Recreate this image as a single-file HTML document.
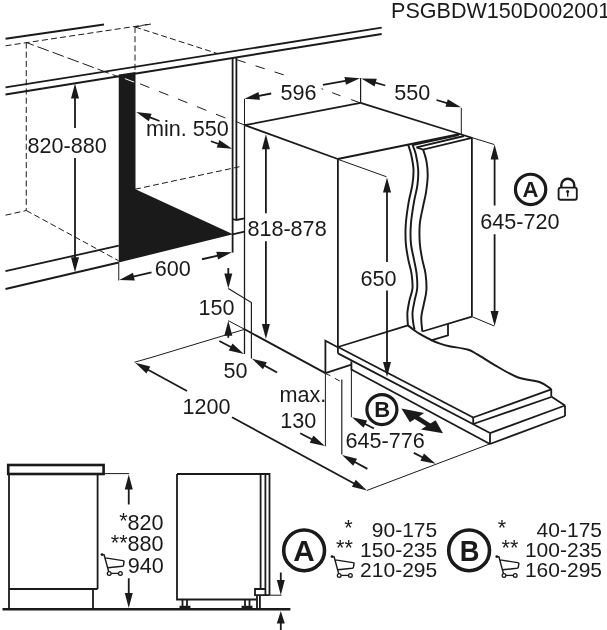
<!DOCTYPE html>
<html><head><meta charset="utf-8"><title>PSGBDW150D002001</title>
<style>
html,body{margin:0;padding:0;background:#fff;}
body{width:607px;height:630px;overflow:hidden;font-family:"Liberation Sans",sans-serif;}
svg{display:block;}
svg text{font-family:"Liberation Sans",sans-serif;}
svg{opacity:0.999;will-change:transform;}
</style></head><body>
<svg width="607" height="630" viewBox="0 0 607 630" font-family="Liberation Sans, sans-serif" fill="#1a1a1a">
<text x="391.1" y="18.3" font-size="21.55" text-anchor="start" font-weight="normal">PSGBDW150D002001</text>
<line x1="5.5" y1="38.8" x2="104" y2="24.5" stroke="#1a1a1a" stroke-width="2.0" stroke-linecap="butt"/>
<line x1="5.5" y1="87.4" x2="381.7" y2="27.7" stroke="#1a1a1a" stroke-width="1.8" stroke-linecap="butt"/>
<line x1="5.5" y1="94.5" x2="381.7" y2="34" stroke="#1a1a1a" stroke-width="1.8" stroke-linecap="butt"/>
<line x1="5.5" y1="45.8" x2="151" y2="24" stroke="#1a1a1a" stroke-width="1.0" stroke-linecap="butt" stroke-dasharray="6 3.2"/>
<line x1="151" y1="24" x2="135" y2="27" stroke="#1a1a1a" stroke-width="1.0" stroke-linecap="butt" stroke-dasharray="6 3.2"/>
<line x1="26.25" y1="42.5" x2="26.25" y2="210.5" stroke="#1a1a1a" stroke-width="1.0" stroke-linecap="butt" stroke-dasharray="6 3.2"/>
<line x1="135" y1="27" x2="135" y2="74" stroke="#1a1a1a" stroke-width="1.0" stroke-linecap="butt" stroke-dasharray="6 3.2"/>
<line x1="5.5" y1="215.2" x2="26.25" y2="210.5" stroke="#1a1a1a" stroke-width="1.0" stroke-linecap="butt" stroke-dasharray="6 3.2"/>
<line x1="26.25" y1="210.5" x2="118.75" y2="260.8" stroke="#1a1a1a" stroke-width="1.0" stroke-linecap="butt" stroke-dasharray="6 3.2"/>
<line x1="26.25" y1="42.5" x2="118.75" y2="76.9" stroke="#1a1a1a" stroke-width="1.0" stroke-linecap="butt" stroke-dasharray="8 4 12 4 12 4 12 4 12 4 12 4"/>
<line x1="135" y1="27" x2="217" y2="53.4" stroke="#1a1a1a" stroke-width="1.0" stroke-linecap="butt" stroke-dasharray="6 3.2"/>
<line x1="236.5" y1="59.7" x2="284.8" y2="75.2" stroke="#1a1a1a" stroke-width="1.0" stroke-linecap="butt" stroke-dasharray="9.6 10.4"/>
<line x1="140" y1="83.8" x2="226.2" y2="118.3" stroke="#1a1a1a" stroke-width="1.0" stroke-linecap="butt" stroke-dasharray="10.1 10.36"/>
<line x1="135" y1="189.25" x2="239.5" y2="166.75" stroke="#1a1a1a" stroke-width="1.0" stroke-linecap="butt" stroke-dasharray="6 3.2"/>
<line x1="5.5" y1="271.2" x2="118.75" y2="245.6" stroke="#1a1a1a" stroke-width="1.8" stroke-linecap="butt"/>
<line x1="5.5" y1="289" x2="118.75" y2="262.5" stroke="#1a1a1a" stroke-width="1.8" stroke-linecap="butt"/>
<polygon points="118.75,74.50 135.50,72.00 135.50,189.25 233.00,234.30 118.75,262.50" fill="#1a1a1a" stroke="none" stroke-width="0"/>
<line x1="124.8" y1="78.6" x2="134.2" y2="82.1" stroke="#fff" stroke-width="1.0" stroke-linecap="butt"/>
<line x1="232.6" y1="57.5" x2="232.6" y2="252.6" stroke="#1a1a1a" stroke-width="1.8" stroke-linecap="butt"/>
<line x1="236.4" y1="57" x2="236.4" y2="220" stroke="#1a1a1a" stroke-width="1.8" stroke-linecap="butt"/>
<path d="M232.6,219 L236.4,220 L244.5,218.3" stroke="#1a1a1a" stroke-width="1.8" fill="none" stroke-linejoin="miter" stroke-linecap="butt"/>
<line x1="232.6" y1="234.4" x2="244.5" y2="231.6" stroke="#1a1a1a" stroke-width="1.8" stroke-linecap="butt"/>
<line x1="244.5" y1="98.8" x2="244.5" y2="125.2" stroke="#1a1a1a" stroke-width="1.0" stroke-linecap="butt"/>
<line x1="244.5" y1="125.2" x2="244.5" y2="354" stroke="#1a1a1a" stroke-width="1.3" stroke-linecap="butt"/>
<line x1="235.7" y1="121.4" x2="244.8" y2="125.2" stroke="#1a1a1a" stroke-width="1.0" stroke-linecap="butt"/>
<line x1="75" y1="128" x2="75.0" y2="95.6" stroke="#1a1a1a" stroke-width="1.8" stroke-linecap="butt"/>
<polygon points="75.00,83.60 79.00,98.60 71.00,98.60" fill="#1a1a1a" stroke="none" stroke-width="0"/>
<line x1="75" y1="158" x2="75.0" y2="260.2" stroke="#1a1a1a" stroke-width="1.8" stroke-linecap="butt"/>
<polygon points="75.00,272.20 71.00,257.20 79.00,257.20" fill="#1a1a1a" stroke="none" stroke-width="0"/>
<text x="27.5" y="153.1" font-size="21.6" text-anchor="start" font-weight="normal">820-880</text>
<text x="146.0" y="136.2" font-size="21.6" text-anchor="start" font-weight="normal">min. 550</text>
<line x1="159.5" y1="121" x2="147.39394464022297" y2="116.32384127733934" stroke="#1a1a1a" stroke-width="1.8" stroke-linecap="butt"/>
<polygon points="136.20,112.00 151.63,113.67 148.75,121.14" fill="#1a1a1a" stroke="none" stroke-width="0"/>
<line x1="210.9" y1="141.25" x2="220.8811759300331" y2="144.76449856691306" stroke="#1a1a1a" stroke-width="1.8" stroke-linecap="butt"/>
<polygon points="232.20,148.75 216.72,147.54 219.38,140.00" fill="#1a1a1a" stroke="none" stroke-width="0"/>
<text x="154.75" y="276.3" font-size="21.6" text-anchor="start" font-weight="normal">600</text>
<line x1="118.75" y1="262.5" x2="118.75" y2="280.5" stroke="#1a1a1a" stroke-width="1.0" stroke-linecap="butt"/>
<line x1="151.5" y1="272.4" x2="130.97910050625123" y2="277.243442116537" stroke="#1a1a1a" stroke-width="1.8" stroke-linecap="butt"/>
<polygon points="119.30,280.00 132.98,272.66 134.82,280.45" fill="#1a1a1a" stroke="none" stroke-width="0"/>
<line x1="202" y1="259.25" x2="220.11361628397702" y2="255.0255156653141" stroke="#1a1a1a" stroke-width="1.8" stroke-linecap="butt"/>
<polygon points="231.80,252.30 218.10,259.60 216.28,251.81" fill="#1a1a1a" stroke="none" stroke-width="0"/>
<line x1="244.8" y1="125.2" x2="360.6" y2="102.9" stroke="#1a1a1a" stroke-width="1.8" stroke-linecap="butt"/>
<line x1="360.6" y1="102.9" x2="460" y2="134" stroke="#1a1a1a" stroke-width="1.8" stroke-linecap="butt"/>
<line x1="244.8" y1="125.2" x2="337.75" y2="159" stroke="#1a1a1a" stroke-width="1.8" stroke-linecap="butt"/>
<line x1="337.75" y1="159" x2="460" y2="134" stroke="#1a1a1a" stroke-width="1.8" stroke-linecap="butt"/>
<line x1="337.9" y1="159" x2="337.9" y2="353.4" stroke="#1a1a1a" stroke-width="1.8" stroke-linecap="butt"/>
<line x1="471.9" y1="137.5" x2="471.9" y2="316.6" stroke="#1a1a1a" stroke-width="1.8" stroke-linecap="butt"/>
<text x="280.4" y="100.3" font-size="21.6" text-anchor="start" font-weight="normal">596</text>
<line x1="271.2" y1="93.5" x2="256.2703469462579" y2="96.46356408931959" stroke="#1a1a1a" stroke-width="1.8" stroke-linecap="butt"/>
<polygon points="244.50,98.80 258.43,91.96 259.99,99.80" fill="#1a1a1a" stroke="none" stroke-width="0"/>
<line x1="322.9" y1="84.8" x2="348.185493892633" y2="80.30177197597364" stroke="#1a1a1a" stroke-width="1.8" stroke-linecap="butt"/>
<polygon points="360.00,78.20 345.93,84.77 344.53,76.89" fill="#1a1a1a" stroke="none" stroke-width="0"/>
<line x1="360.6" y1="78" x2="360.6" y2="102.9" stroke="#1a1a1a" stroke-width="1.2" stroke-linecap="butt"/>
<line x1="332.2" y1="92.7" x2="340.5" y2="95.8" stroke="#1a1a1a" stroke-width="1.0" stroke-linecap="butt"/>
<line x1="351.2" y1="99.6" x2="360.2" y2="102.9" stroke="#1a1a1a" stroke-width="1.0" stroke-linecap="butt"/>
<line x1="321.5" y1="88.7" x2="323.2" y2="89.3" stroke="#1a1a1a" stroke-width="1.0" stroke-linecap="butt"/>
<text x="394.3" y="100.3" font-size="21.6" text-anchor="start" font-weight="normal">550</text>
<line x1="385.25" y1="85.5" x2="372.80509261617" y2="81.81069551460571" stroke="#1a1a1a" stroke-width="1.8" stroke-linecap="butt"/>
<polygon points="361.30,78.40 376.82,78.83 374.54,86.50" fill="#1a1a1a" stroke="none" stroke-width="0"/>
<line x1="436.5" y1="100" x2="449.499645082256" y2="103.87336363675382" stroke="#1a1a1a" stroke-width="1.8" stroke-linecap="butt"/>
<polygon points="461.00,107.30 445.48,106.85 447.77,99.18" fill="#1a1a1a" stroke="none" stroke-width="0"/>
<line x1="461.3" y1="107.8" x2="461.3" y2="134.4" stroke="#1a1a1a" stroke-width="1.0" stroke-linecap="butt"/>
<text x="247.4" y="236.3" font-size="21.6" text-anchor="start" font-weight="normal">818-878</text>
<line x1="265.9" y1="213.2" x2="265.9" y2="146.3" stroke="#1a1a1a" stroke-width="1.8" stroke-linecap="butt"/>
<polygon points="265.90,134.30 269.90,149.30 261.90,149.30" fill="#1a1a1a" stroke="none" stroke-width="0"/>
<line x1="265.9" y1="241.2" x2="265.9" y2="327.0" stroke="#1a1a1a" stroke-width="1.8" stroke-linecap="butt"/>
<polygon points="265.90,339.00 261.90,324.00 269.90,324.00" fill="#1a1a1a" stroke="none" stroke-width="0"/>
<text x="360.5" y="286.3" font-size="21.6" text-anchor="start" font-weight="normal">650</text>
<line x1="337.75" y1="159.25" x2="386.5" y2="176.75" stroke="#1a1a1a" stroke-width="1.0" stroke-linecap="butt"/>
<line x1="387" y1="262" x2="387.0" y2="189.4" stroke="#1a1a1a" stroke-width="1.8" stroke-linecap="butt"/>
<polygon points="387.00,177.40 391.00,192.40 383.00,192.40" fill="#1a1a1a" stroke="none" stroke-width="0"/>
<line x1="387" y1="290.5" x2="387.0" y2="365.0" stroke="#1a1a1a" stroke-width="1.8" stroke-linecap="butt"/>
<polygon points="387.00,377.00 383.00,362.00 391.00,362.00" fill="#1a1a1a" stroke="none" stroke-width="0"/>
<text x="480.25" y="228.6" font-size="21.6" text-anchor="start" font-weight="normal">645-720</text>
<line x1="471.9" y1="137.6" x2="494.2" y2="144.5" stroke="#1a1a1a" stroke-width="1.0" stroke-linecap="butt"/>
<line x1="494.6" y1="205.5" x2="494.6" y2="156.5" stroke="#1a1a1a" stroke-width="1.8" stroke-linecap="butt"/>
<polygon points="494.60,144.50 498.60,159.50 490.60,159.50" fill="#1a1a1a" stroke="none" stroke-width="0"/>
<line x1="494.6" y1="234.25" x2="494.6" y2="314.0" stroke="#1a1a1a" stroke-width="1.8" stroke-linecap="butt"/>
<polygon points="494.60,326.00 490.60,311.00 498.60,311.00" fill="#1a1a1a" stroke="none" stroke-width="0"/>
<line x1="471.9" y1="316.6" x2="494.2" y2="326" stroke="#1a1a1a" stroke-width="1.0" stroke-linecap="butt"/>
<line x1="412.5" y1="145.1" x2="458.6" y2="135.2" stroke="#1a1a1a" stroke-width="1.8" stroke-linecap="butt"/>
<line x1="416.5" y1="147.4" x2="464" y2="136" stroke="#1a1a1a" stroke-width="1.8" stroke-linecap="butt"/>
<path d="M416.5,147.4 L423.1,149.6 L471.9,137.8" stroke="#1a1a1a" stroke-width="1.8" fill="none" stroke-linejoin="miter" stroke-linecap="butt"/>
<line x1="460" y1="134" x2="471.9" y2="137.8" stroke="#1a1a1a" stroke-width="1.8" stroke-linecap="butt"/>
<path d="M408.1,144.8 C408.60,146.38 410.20,150.13 411.1,154.3 C412.00,158.47 413.30,164.65 413.5,169.8 C413.70,174.95 413.10,179.85 412.3,185.2 C411.50,190.55 409.78,195.43 408.7,201.9 C407.62,208.37 406.28,217.13 405.8,224 C405.32,230.87 405.38,237.17 405.8,243.1 C406.22,249.03 407.35,254.52 408.3,259.6 C409.25,264.68 410.80,268.83 411.5,273.6 C412.20,278.37 412.85,283.70 412.5,288.2 C412.15,292.70 410.25,296.47 409.4,300.6 C408.55,304.73 407.65,308.87 407.4,313 C407.15,317.13 407.82,323.33 407.9,325.4" stroke="#1a1a1a" stroke-width="1.95" fill="none" stroke-linejoin="miter" stroke-linecap="butt"/>
<path d="M412.5,144.8 C413.05,146.38 414.85,150.13 415.8,154.3 C416.75,158.47 417.93,164.65 418.2,169.8 C418.47,174.95 418.10,179.85 417.4,185.2 C416.70,190.55 415.08,195.43 414,201.9 C412.92,208.37 411.42,217.13 410.9,224 C410.38,230.87 410.38,237.17 410.9,243.1 C411.42,249.03 413.05,254.52 414,259.6 C414.95,264.68 416.07,268.83 416.6,273.6 C417.13,278.37 417.53,283.70 417.2,288.2 C416.87,292.70 415.38,296.47 414.6,300.6 C413.82,304.73 412.70,309.10 412.5,313 C412.30,316.90 413.05,321.27 413.4,324 C413.75,326.73 414.40,328.50 414.6,329.4" stroke="#1a1a1a" stroke-width="1.95" fill="none" stroke-linejoin="miter" stroke-linecap="butt"/>
<path d="M423.1,149.4 C423.67,151.40 425.73,157.02 426.5,161.4 C427.27,165.78 427.78,170.53 427.7,175.7 C427.62,180.87 426.78,187.23 426,192.4 C425.22,197.57 424.03,201.43 423,206.7 C421.97,211.97 420.33,217.93 419.8,224 C419.27,230.07 419.38,237.17 419.8,243.1 C420.22,249.03 421.35,254.52 422.3,259.6 C423.25,264.68 424.82,268.48 425.5,273.6 C426.18,278.72 426.67,285.28 426.4,290.3 C426.13,295.32 424.75,299.23 423.9,303.7 C423.05,308.17 421.57,312.47 421.3,317.1 C421.03,321.73 422.13,329.10 422.3,331.5" stroke="#1a1a1a" stroke-width="1.95" fill="none" stroke-linejoin="miter" stroke-linecap="butt"/>
<line x1="471.9" y1="316.6" x2="422.3" y2="331.5" stroke="#1a1a1a" stroke-width="1.8" stroke-linecap="butt"/>
<path d="M448,324 L448,335.3 L431.2,340.4" stroke="#1a1a1a" stroke-width="1.8" fill="none" stroke-linejoin="miter" stroke-linecap="butt"/>
<circle cx="530.6" cy="189.4" r="15.15" fill="none" stroke="#1a1a1a" stroke-width="3.2"/>
<text x="530.6" y="196.8" font-size="22.1" text-anchor="middle" font-weight="bold">A</text>
<rect x="558.6" y="187.6" width="18.2" height="12.1" rx="2" fill="none" stroke="#1a1a1a" stroke-width="1.85"/>
<path d="M561.3,187 V185.2 A6.5,6.5 0 0 1 574.3,185.2 V187" stroke="#1a1a1a" stroke-width="2.4" fill="none" stroke-linejoin="miter" stroke-linecap="butt"/>
<circle cx="567.7" cy="191.5" r="1.55"/>
<line x1="567.7" y1="191.5" x2="567.7" y2="196.7" stroke="#1a1a1a" stroke-width="1.4" stroke-linecap="butt"/>
<line x1="338" y1="347" x2="407.9" y2="325.4" stroke="#1a1a1a" stroke-width="1.8" stroke-linecap="butt"/>
<line x1="338" y1="347" x2="473.2" y2="417.5" stroke="#1a1a1a" stroke-width="1.8" stroke-linecap="butt"/>
<line x1="338" y1="353.4" x2="490" y2="433" stroke="#1a1a1a" stroke-width="1.8" stroke-linecap="butt"/>
<line x1="351.4" y1="369.5" x2="490" y2="444" stroke="#1a1a1a" stroke-width="1.8" stroke-linecap="butt"/>
<line x1="473.2" y1="417.5" x2="473.2" y2="424" stroke="#1a1a1a" stroke-width="1.8" stroke-linecap="butt"/>
<line x1="490" y1="433.2" x2="490" y2="444" stroke="#1a1a1a" stroke-width="1.8" stroke-linecap="butt"/>
<line x1="473.2" y1="417.5" x2="551.25" y2="389.4" stroke="#1a1a1a" stroke-width="1.8" stroke-linecap="butt"/>
<line x1="473.2" y1="424" x2="551.25" y2="397" stroke="#1a1a1a" stroke-width="1.8" stroke-linecap="butt"/>
<line x1="551.25" y1="389" x2="551.25" y2="396.5" stroke="#1a1a1a" stroke-width="1.8" stroke-linecap="butt"/>
<line x1="551.25" y1="396.5" x2="565" y2="405.5" stroke="#1a1a1a" stroke-width="1.8" stroke-linecap="butt"/>
<line x1="565" y1="405.5" x2="565" y2="416" stroke="#1a1a1a" stroke-width="1.8" stroke-linecap="butt"/>
<line x1="490" y1="433.2" x2="565" y2="405.5" stroke="#1a1a1a" stroke-width="1.8" stroke-linecap="butt"/>
<line x1="490" y1="444" x2="565" y2="416" stroke="#1a1a1a" stroke-width="1.8" stroke-linecap="butt"/>
<path d="M407.9,325.4 C408.83,326.10 411.53,328.18 413.5,329.6 C415.47,331.02 416.75,332.17 419.7,333.9 C422.65,335.63 427.82,338.38 431.2,340 C434.58,341.62 436.97,342.57 440,343.6 C443.03,344.63 444.82,345.22 449.4,346.2 C453.98,347.18 462.83,348.13 467.5,349.5 C472.17,350.87 472.87,351.80 477.4,354.4 C481.93,357.00 488.02,361.29 494.7,365.1 C501.38,368.91 509.95,374.39 517.5,377.25 C525.05,380.11 534.38,380.29 540,382.25 C545.62,384.21 549.38,387.88 551.25,389" stroke="#1a1a1a" stroke-width="1.95" fill="none" stroke-linejoin="miter" stroke-linecap="butt"/>
<line x1="490" y1="443.8" x2="367" y2="490.4" stroke="#1a1a1a" stroke-width="1.0" stroke-linecap="butt"/>
<line x1="244.6" y1="329.3" x2="152" y2="357.25" stroke="#1a1a1a" stroke-width="1.0" stroke-linecap="butt"/>
<line x1="152" y1="357.25" x2="134.5" y2="362.25" stroke="#1a1a1a" stroke-width="1.0" stroke-linecap="butt"/>
<line x1="228.3" y1="320.7" x2="244.6" y2="329.3" stroke="#1a1a1a" stroke-width="1.0" stroke-linecap="butt"/>
<line x1="244.6" y1="329.3" x2="325.4" y2="373.1" stroke="#1a1a1a" stroke-width="1.8" stroke-linecap="butt"/>
<text x="182.4" y="414.3" font-size="21.6" text-anchor="start" font-weight="normal">1200</text>
<line x1="187" y1="391" x2="145.7394088076279" y2="368.5376704319519" stroke="#1a1a1a" stroke-width="1.8" stroke-linecap="butt"/>
<polygon points="135.20,362.80 150.29,366.46 146.46,373.49" fill="#1a1a1a" stroke="none" stroke-width="0"/>
<line x1="232" y1="417.25" x2="356.4493147582125" y2="484.6830916634314" stroke="#1a1a1a" stroke-width="1.8" stroke-linecap="butt"/>
<polygon points="367.00,490.40 351.91,486.77 355.72,479.74" fill="#1a1a1a" stroke="none" stroke-width="0"/>
<text x="198.5" y="314.55" font-size="21.6" text-anchor="start" font-weight="normal">150</text>
<line x1="228.3" y1="268" x2="228.3" y2="276.6" stroke="#1a1a1a" stroke-width="1.8" stroke-linecap="butt"/>
<polygon points="228.30,288.60 224.30,273.60 232.30,273.60" fill="#1a1a1a" stroke="none" stroke-width="0"/>
<line x1="228.3" y1="337.8" x2="228.3" y2="332.7" stroke="#1a1a1a" stroke-width="1.8" stroke-linecap="butt"/>
<polygon points="228.30,320.70 232.30,335.70 224.30,335.70" fill="#1a1a1a" stroke="none" stroke-width="0"/>
<path d="M228.3,288.6 L251.4,302.5 L251.4,358.4" stroke="#1a1a1a" stroke-width="1.15" fill="none" stroke-linejoin="miter" stroke-linecap="butt"/>
<text x="223.6" y="378.4" font-size="21.6" text-anchor="start" font-weight="normal">50</text>
<line x1="219.3" y1="341" x2="233.27255939202092" y2="348.3270738275231" stroke="#1a1a1a" stroke-width="1.8" stroke-linecap="butt"/>
<polygon points="243.90,353.90 228.76,350.48 232.47,343.39" fill="#1a1a1a" stroke="none" stroke-width="0"/>
<line x1="277.1" y1="372.5" x2="262.31722285011875" y2="364.3782370599467" stroke="#1a1a1a" stroke-width="1.8" stroke-linecap="butt"/>
<polygon points="251.80,358.60 266.87,362.32 263.02,369.33" fill="#1a1a1a" stroke="none" stroke-width="0"/>
<path d="M325.4,373.1 L325.4,340.8 L337.75,347.2" stroke="#1a1a1a" stroke-width="1.8" fill="none" stroke-linejoin="miter" stroke-linecap="butt"/>
<line x1="325.4" y1="373.1" x2="351.4" y2="364.7" stroke="#1a1a1a" stroke-width="1.8" stroke-linecap="butt"/>
<line x1="351.4" y1="361.3" x2="351.4" y2="370.3" stroke="#1a1a1a" stroke-width="1.8" stroke-linecap="butt"/>
<line x1="351.4" y1="370" x2="351.4" y2="417.25" stroke="#1a1a1a" stroke-width="1.0" stroke-linecap="butt"/>
<line x1="325.4" y1="373.1" x2="325.4" y2="446.3" stroke="#1a1a1a" stroke-width="1.0" stroke-linecap="butt"/>
<line x1="325.8" y1="373.6" x2="330.3" y2="375.7" stroke="#1a1a1a" stroke-width="1.0" stroke-linecap="butt"/>
<line x1="334.8" y1="378.3" x2="339.7" y2="381" stroke="#1a1a1a" stroke-width="1.0" stroke-linecap="butt"/>
<line x1="341.8" y1="379.5" x2="341.8" y2="454.5" stroke="#1a1a1a" stroke-width="1.15" stroke-linecap="butt"/>
<text x="279.5" y="402.3" font-size="21.6" text-anchor="start" font-weight="normal">max.</text>
<text x="280.2" y="428.05" font-size="21.6" text-anchor="start" font-weight="normal">130</text>
<line x1="300.2" y1="433.2" x2="314.24564021031125" y2="440.4787123357079" stroke="#1a1a1a" stroke-width="1.8" stroke-linecap="butt"/>
<polygon points="324.90,446.00 309.74,442.65 313.42,435.55" fill="#1a1a1a" stroke="none" stroke-width="0"/>
<line x1="367.4" y1="468.9" x2="352.5268176034239" y2="460.7607387672281" stroke="#1a1a1a" stroke-width="1.8" stroke-linecap="butt"/>
<polygon points="342.00,455.00 357.08,458.69 353.24,465.71" fill="#1a1a1a" stroke="none" stroke-width="0"/>
<circle cx="381.9" cy="409.6" r="15.0" fill="none" stroke="#1a1a1a" stroke-width="3.2"/>
<text x="382.2" y="417.2" font-size="22.0" text-anchor="middle" font-weight="bold">B</text>
<polygon points="401.40,408.40 424.20,412.90 409.90,422.30" fill="#1a1a1a" stroke="none" stroke-width="0"/>
<polygon points="443.00,433.20 435.60,420.30 420.90,429.40" fill="#1a1a1a" stroke="none" stroke-width="0"/>
<line x1="415.5" y1="416.8" x2="429.5" y2="425.6" stroke="#1a1a1a" stroke-width="4.6" stroke-linecap="butt"/>
<text x="345.5" y="448.05" font-size="21.6" text-anchor="start" font-weight="normal">645-776</text>
<line x1="374" y1="428.5" x2="362.6939573872179" y2="422.7441964880382" stroke="#1a1a1a" stroke-width="1.8" stroke-linecap="butt"/>
<polygon points="352.00,417.30 367.18,420.54 363.55,427.67" fill="#1a1a1a" stroke="none" stroke-width="0"/>
<line x1="413.8" y1="452.9" x2="424.86687370800104" y2="458.4334368540005" stroke="#1a1a1a" stroke-width="1.8" stroke-linecap="butt"/>
<polygon points="435.60,463.80 420.39,460.67 423.97,453.51" fill="#1a1a1a" stroke="none" stroke-width="0"/>
<rect x="8.2" y="465.0" width="95.4" height="9.0" fill="none" stroke="#1a1a1a" stroke-width="2.6"/>
<line x1="104.5" y1="473.6" x2="129.2" y2="473.6" stroke="#1a1a1a" stroke-width="1.0" stroke-linecap="butt"/>
<path d="M9,475 V608 M97.6,475 V589 M9,589 H97.6 M93,589 V608" stroke="#1a1a1a" stroke-width="1.8" fill="none" stroke-linejoin="miter" stroke-linecap="butt"/>
<line x1="2.5" y1="609.3" x2="290.4" y2="609.3" stroke="#1a1a1a" stroke-width="2.6" stroke-linecap="butt"/>
<line x1="128.75" y1="504.5" x2="128.75" y2="486.5" stroke="#1a1a1a" stroke-width="1.8" stroke-linecap="butt"/>
<polygon points="128.75,474.50 132.75,489.50 124.75,489.50" fill="#1a1a1a" stroke="none" stroke-width="0"/>
<line x1="128.75" y1="578.25" x2="128.75" y2="596.0" stroke="#1a1a1a" stroke-width="1.8" stroke-linecap="butt"/>
<polygon points="128.75,608.00 124.75,593.00 132.75,593.00" fill="#1a1a1a" stroke="none" stroke-width="0"/>
<text x="119.2" y="528.3" font-size="21.6" text-anchor="start" font-weight="normal">*</text>
<text x="127.6" y="529.8" font-size="21.6" text-anchor="start" font-weight="normal">820</text>
<text x="110.8" y="549.5" font-size="21.6" text-anchor="start" font-weight="normal">**</text>
<text x="127.6" y="551.05" font-size="21.6" text-anchor="start" font-weight="normal">880</text>
<text x="127.7" y="573.3" font-size="21.6" text-anchor="start" font-weight="normal">940</text>
<path d="M177,474 H269.5 V595.2 M177,474 V599.5 H256.5" stroke="#1a1a1a" stroke-width="1.8" fill="none" stroke-linejoin="miter" stroke-linecap="butt"/>
<line x1="260.6" y1="474" x2="260.6" y2="589" stroke="#1a1a1a" stroke-width="1.8" stroke-linecap="butt"/>
<line x1="265.4" y1="474" x2="265.4" y2="595.2" stroke="#1a1a1a" stroke-width="1.8" stroke-linecap="butt"/>
<path d="M265.4,589 H255 V595.2 H269.5" stroke="#1a1a1a" stroke-width="1.8" fill="none" stroke-linejoin="miter" stroke-linecap="butt"/>
<path d="M257,595.2 V608 M259.9,595.2 V608" stroke="#1a1a1a" stroke-width="1.8" fill="none" stroke-linejoin="miter" stroke-linecap="butt"/>
<path d="M182.5,599.5 V606 M187,599.5 V606 M245,599.5 V606 M249.5,599.5 V606" stroke="#1a1a1a" stroke-width="1.8" fill="none" stroke-linejoin="miter" stroke-linecap="butt"/>
<line x1="179.5" y1="607" x2="190.5" y2="607" stroke="#1a1a1a" stroke-width="2.4" stroke-linecap="butt"/>
<line x1="241.5" y1="607" x2="252.5" y2="607" stroke="#1a1a1a" stroke-width="2.4" stroke-linecap="butt"/>
<line x1="269.5" y1="595.2" x2="281.5" y2="595.2" stroke="#1a1a1a" stroke-width="1.0" stroke-linecap="butt"/>
<line x1="280.8" y1="572.5" x2="280.8" y2="583.0" stroke="#1a1a1a" stroke-width="1.8" stroke-linecap="butt"/>
<polygon points="280.80,595.00 276.80,580.00 284.80,580.00" fill="#1a1a1a" stroke="none" stroke-width="0"/>
<line x1="280.8" y1="630" x2="280.8" y2="621.0" stroke="#1a1a1a" stroke-width="1.8" stroke-linecap="butt"/>
<polygon points="280.80,611.00 284.80,623.50 276.80,623.50" fill="#1a1a1a" stroke="none" stroke-width="0"/>
<path d="M101.9,554.6 L104.10000000000001,554.7 L108.60000000000001,571.4000000000001 M105.3,557.9000000000001 L122.9,560.6 Q124.2,560.8000000000001 124.0,562.0 L123.5,565.1 Q123.30000000000001,566.1 122.2,566.25 L107.9,567.8000000000001" stroke="#1a1a1a" stroke-width="1.45" fill="none" stroke-linejoin="round" stroke-linecap="round"/>
<circle cx="102.0" cy="554.6" r="1.4"/>
<circle cx="109.2" cy="573.4000000000001" r="1.85" fill="none" stroke="#1a1a1a" stroke-width="1.3"/>
<circle cx="120.4" cy="573.4000000000001" r="1.85" fill="none" stroke="#1a1a1a" stroke-width="1.3"/>
<line x1="111.10000000000001" y1="573.4000000000001" x2="118.5" y2="573.4000000000001" stroke="#1a1a1a" stroke-width="1.3" stroke-linecap="butt"/>
<circle cx="304.1" cy="550.4" r="20.4" fill="none" stroke="#1a1a1a" stroke-width="3.6"/>
<text x="304" y="560.9" font-size="29.7" text-anchor="middle" font-weight="bold">A</text>
<text x="344.3" y="535.4" font-size="21.6" text-anchor="start" font-weight="normal">*</text>
<text x="437.2" y="536.75" font-size="21.0" text-anchor="end" font-weight="normal">90-175</text>
<text x="336.1" y="555.4" font-size="21.6" text-anchor="start" font-weight="normal">**</text>
<text x="437.2" y="556.75" font-size="21.0" text-anchor="end" font-weight="normal">150-235</text>
<text x="437.2" y="576.75" font-size="21.0" text-anchor="end" font-weight="normal">210-295</text>
<path d="M331.9,556.6 L334.09999999999997,556.7 L338.59999999999997,573.4000000000001 M335.3,559.9000000000001 L352.9,562.6 Q354.2,562.8000000000001 354.0,564.0 L353.5,567.1 Q353.3,568.1 352.2,568.25 L337.9,569.8000000000001" stroke="#1a1a1a" stroke-width="1.45" fill="none" stroke-linejoin="round" stroke-linecap="round"/>
<circle cx="332.0" cy="556.6" r="1.4"/>
<circle cx="339.2" cy="575.4000000000001" r="1.85" fill="none" stroke="#1a1a1a" stroke-width="1.3"/>
<circle cx="350.4" cy="575.4000000000001" r="1.85" fill="none" stroke="#1a1a1a" stroke-width="1.3"/>
<line x1="341.09999999999997" y1="575.4000000000001" x2="348.5" y2="575.4000000000001" stroke="#1a1a1a" stroke-width="1.3" stroke-linecap="butt"/>
<circle cx="469.1" cy="550.4" r="20.4" fill="none" stroke="#1a1a1a" stroke-width="3.6"/>
<text transform="translate(469.7,560.9) scale(0.92,1)" font-size="29.7" text-anchor="middle" font-weight="bold">B</text>
<text x="497.7" y="535.4" font-size="21.6" text-anchor="start" font-weight="normal">*</text>
<text x="602" y="536.75" font-size="21.0" text-anchor="end" font-weight="normal">40-175</text>
<text x="501.6" y="555.4" font-size="21.6" text-anchor="start" font-weight="normal">**</text>
<text x="602" y="556.75" font-size="21.0" text-anchor="end" font-weight="normal">100-235</text>
<text x="602" y="576.75" font-size="21.0" text-anchor="end" font-weight="normal">160-295</text>
<path d="M496.7,556.6 L498.9,556.7 L503.4,573.4000000000001 M500.1,559.9000000000001 L517.7,562.6 Q519,562.8000000000001 518.8,564.0 L518.3,567.1 Q518.1,568.1 517,568.25 L502.7,569.8000000000001" stroke="#1a1a1a" stroke-width="1.45" fill="none" stroke-linejoin="round" stroke-linecap="round"/>
<circle cx="496.8" cy="556.6" r="1.4"/>
<circle cx="504.0" cy="575.4000000000001" r="1.85" fill="none" stroke="#1a1a1a" stroke-width="1.3"/>
<circle cx="515.2" cy="575.4000000000001" r="1.85" fill="none" stroke="#1a1a1a" stroke-width="1.3"/>
<line x1="505.9" y1="575.4000000000001" x2="513.3" y2="575.4000000000001" stroke="#1a1a1a" stroke-width="1.3" stroke-linecap="butt"/>
</svg>
</body></html>
